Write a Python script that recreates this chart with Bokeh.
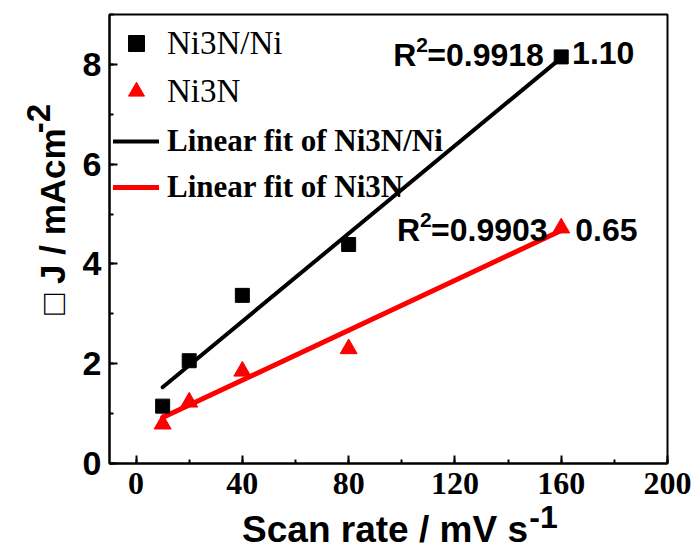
import numpy as np
from math import pi
from bokeh.plotting import figure
from bokeh.models import Range1d, SingleIntervalTicker, Label, Legend, LegendItem
from bokeh.embed import file_html
from bokeh.resources import INLINE

# ---- data ----
scan_rate = [10, 20, 40, 80, 160]
j_ni3n_ni = [1.15, 2.06, 3.37, 4.39, 8.15]
j_ni3n = [0.79, 1.23, 1.85, 2.30, 4.72]
fit_x = [10, 160]
fit_ni3n_ni = [1.53, 8.13]
fit_ni3n = [0.92, 4.67]
series_labels = ["Ni3N/Ni", "Ni3N", "Linear fit of Ni3N/Ni", "Linear fit of Ni3N"]
r2_texts = ["0.9918", "0.9903"]
slope_texts = ["1.10", "0.65"]

SANS = "Liberation Sans"
SERIF = "Liberation Serif"

p = figure(width=697, height=549, x_range=Range1d(-10, 200), y_range=Range1d(0, 9),
           output_backend="svg", toolbar_location=None,
           min_border_left=109, min_border_right=30, min_border_top=14, min_border_bottom=86)
p.background_fill_color = "white"
p.border_fill_color = "white"
p.grid.visible = False
p.outline_line_color = "black"
p.outline_line_width = 2
p.outline_line_alpha = 1.0

for ax, interval, font, size, standoff in ((p.xaxis[0], 40, SERIF, "32px", 9),
                                           (p.yaxis[0], 2, SANS, "34px", 8)):
    ax.ticker = SingleIntervalTicker(interval=interval, num_minor_ticks=2)
    ax.axis_line_width = 2
    ax.axis_line_color = "black"
    ax.major_tick_in = 8
    ax.major_tick_out = 0
    ax.minor_tick_in = 4
    ax.minor_tick_out = 0
    ax.major_tick_line_width = 2
    ax.minor_tick_line_width = 2
    ax.major_tick_line_color = "black"
    ax.minor_tick_line_color = "black"
    ax.major_label_text_font = font
    ax.major_label_text_font_style = "bold"
    ax.major_label_text_font_size = size
    ax.major_label_text_color = "black"
    ax.major_label_standoff = standoff
    ax.axis_label = None

r_l1 = p.line(fit_x, fit_ni3n_ni, line_width=4, line_color="black", line_cap="round")
r_l2 = p.line(fit_x, fit_ni3n, line_width=5, line_color="#ff0000", line_cap="round")
r_sq = p.scatter(scan_rate, j_ni3n_ni, marker="square", size=14, color="black")
r_tr = p.scatter(scan_rate, j_ni3n, marker="triangle", size=17, color="#ff0000")

common = dict(glyph_width=46, spacing=8, padding=0, margin=0, label_standoff=8,
              border_line_alpha=0, background_fill_alpha=0,
              label_text_font=SERIF, label_text_color="black")
leg1 = Legend(items=[LegendItem(label=series_labels[0], renderers=[r_sq]),
                     LegendItem(label=series_labels[1], renderers=[r_tr])],
              location=(4, 352), glyph_height=40, label_height=40,
              label_text_font_size="33px", label_text_font_style="normal", **common)
leg2 = Legend(items=[LegendItem(label=series_labels[2], renderers=[r_l1]),
                     LegendItem(label=series_labels[3], renderers=[r_l2])],
              location=(4, 257), glyph_height=38, label_height=38,
              label_text_font_size="31px", label_text_font_style="bold", **common)
p.add_layout(leg1)
p.add_layout(leg2)


def txt(x, y, text, size, font=SANS, x_off=0, y_off=0, angle=0.0, style="bold",
        place="center", baseline="alphabetic"):
    lab = Label(x=x, y=y, text=text, text_font=font, text_font_size=f"{size}px",
                text_font_style=style, text_color="black", x_offset=x_off,
                y_offset=y_off, angle=angle, text_align="left",
                text_baseline=baseline)
    p.add_layout(lab, place)


# R^2 annotations and slopes (inside the frame)
for (ax_, ay_), r2, (sx_, sy_), sl in (((96.8, 8.18), r2_texts[0], (164.1, 8.22), slope_texts[0]),
                                      ((98.2, 4.68), r2_texts[1], (165.3, 4.68), slope_texts[1])):
    txt(ax_, ay_, "R", 32)
    txt(ax_, ay_, "2", 21, x_off=23, y_off=10)
    txt(ax_, ay_, "=" + r2, 32, x_off=34)
    txt(sx_, sy_, sl, 32)

# axis titles: placed in side panels (not clipped), positioned with the data scales
txt(39.9, -1.321, "Scan rate / mV s", 37, place="below", baseline="middle")
txt(148.0, -1.074, "-1", 32, place="right", baseline="middle")
txt(-31.5, 2.98, "\u25a1 J / mAcm", 35, angle=pi / 2, place="left", baseline="middle")
txt(-36.9, 6.62, "-2", 33, angle=pi / 2, place="left", baseline="middle")

open("out.html", "w").write(file_html(p, INLINE))
